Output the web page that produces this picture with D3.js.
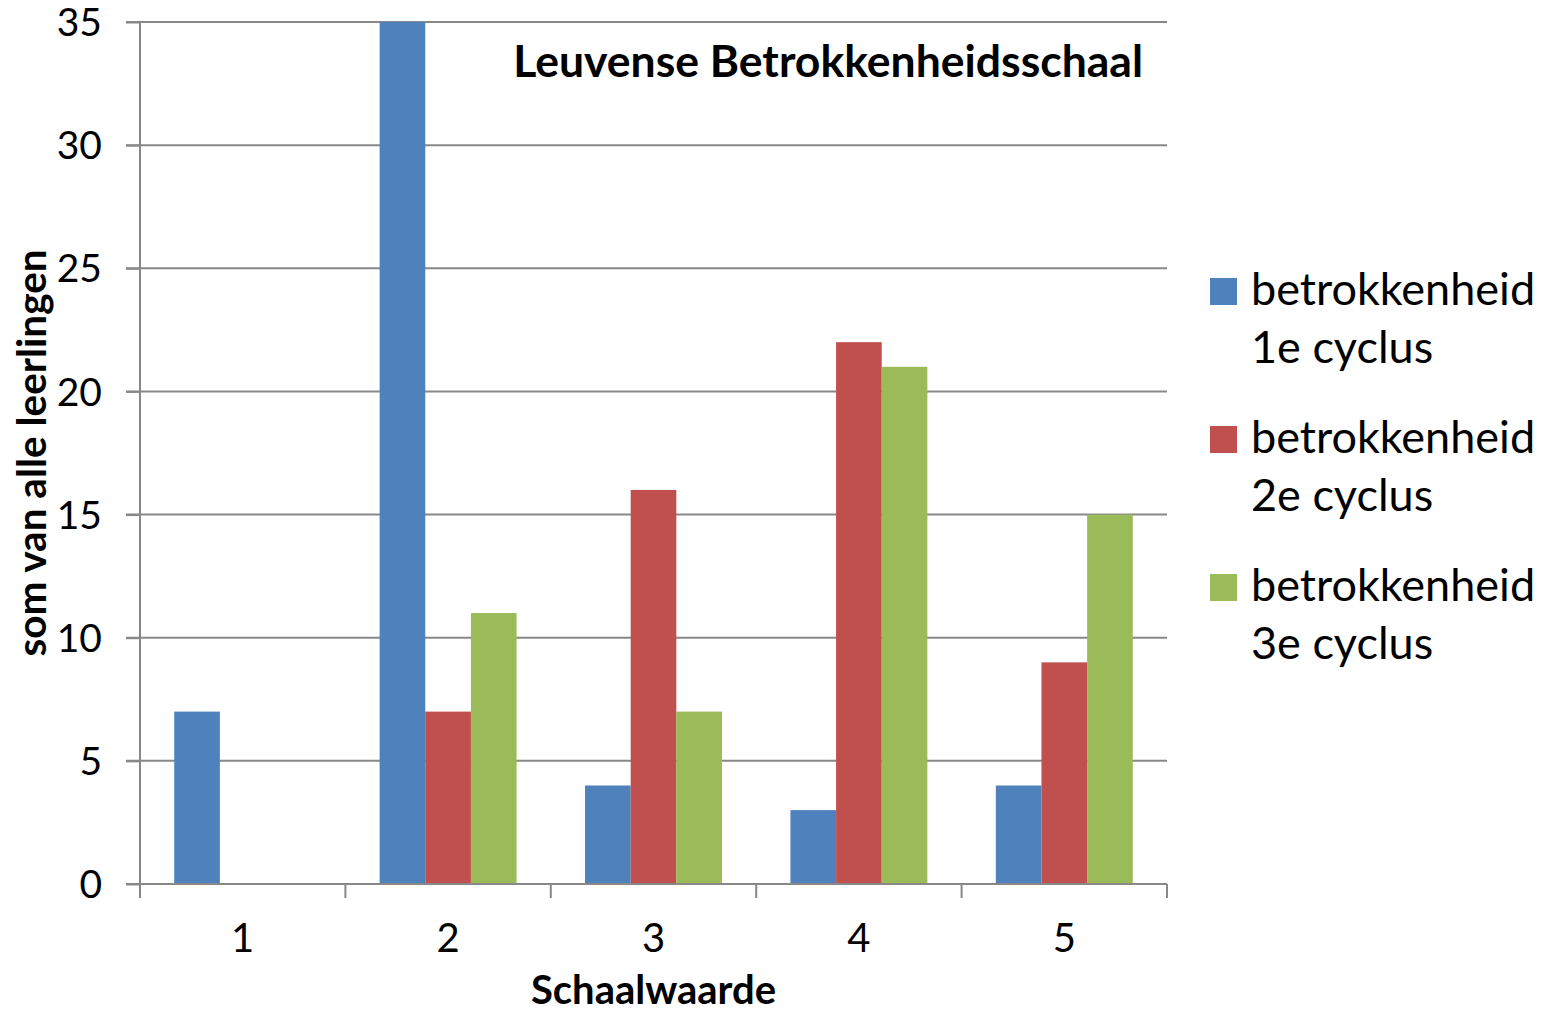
<!DOCTYPE html>
<html>
<head>
<meta charset="utf-8">
<script src="https://cdn.jsdelivr.net/npm/d3@7"></script>
<style>
  body { margin: 0; background: #fff; }
  text { font-family: Lato, "Open Sans", sans-serif; fill: #000; }
</style>
</head>
<body>
<div id="chart"></div>
<script>
// Data
const categories = ['1', '2', '3', '4', '5'];
const seriesNames = [
    ['betrokkenheid', '1e cyclus'],
    ['betrokkenheid', '2e cyclus'],
    ['betrokkenheid', '3e cyclus'],
];
const cyclus1 = [7, 35, 4, 3, 4];
const cyclus2 = [0, 7, 16, 22, 9];
const cyclus3 = [0, 11, 7, 21, 15];
const yTicks = [0, 5, 10, 15, 20, 25, 30, 35];
const colors = ['#4F81BD', '#C0504D', '#9BBB59'];

const width = 1549;
const height = 1014;
const margin = { top: 22, right: 382, bottom: 130, left: 140 };

const svg = d3.select('div#chart').append('svg').attr('width', width).attr('height', height);
const innerW = width - margin.left - margin.right;
const innerH = height - margin.top - margin.bottom;

const x = d3.scaleBand().domain(categories).range([0, innerW]);
const xSeries = d3.scaleBand().domain([0, 1, 2]).range([0, x.bandwidth()]).paddingOuter(0.75);
const y = d3.scaleLinear().domain([0, 35]).range([innerH, 0]);

const plot = svg.append('g').attr('transform', `translate(${margin.left},${margin.top})`);

// gridlines
plot.append('g').selectAll('line').data(yTicks.slice(1)).join('line')
    .attr('x1', -14).attr('x2', innerW)
    .attr('y1', d => y(d)).attr('y2', d => y(d))
    .attr('stroke', '#888').attr('stroke-width', 2);

// bars
const series = [cyclus1, cyclus2, cyclus3];
series.forEach((vals, i) => {
    plot.append('g').selectAll('rect').data(vals).join('rect')
        .attr('x', (d, j) => x(categories[j]) + xSeries(i))
        .attr('y', d => y(d))
        .attr('width', xSeries.bandwidth())
        .attr('height', d => innerH - y(d))
        .attr('fill', colors[i]);
});

// y axis
const yAxis = d3.axisLeft(y).tickValues(yTicks).tickSize(14).tickPadding(24);
const yAxisG = plot.append('g').call(yAxis);
yAxisG.select('.domain').attr('stroke', '#888').attr('stroke-width', 2).attr('d', `M0,0V${innerH}`);
yAxisG.selectAll('.tick line').attr('stroke', '#888').attr('stroke-width', 2);
yAxisG.selectAll('.tick text').style('font-size', '39px').attr('dy', '0.35em');

// x axis
const xAxis = d3.axisBottom(x).tickSize(0).tickPadding(40);
const xAxisG = plot.append('g').attr('transform', `translate(0,${innerH})`).call(xAxis);
xAxisG.select('.domain').attr('stroke', '#888').attr('stroke-width', 2).attr('d', `M-14,0H${innerW}`);
xAxisG.selectAll('.tick text').style('font-size', '40px');
xAxisG.append('g').selectAll('line').data(d3.range(categories.length + 1)).join('line')
    .attr('x1', d => d * x.step()).attr('x2', d => d * x.step())
    .attr('y1', 0).attr('y2', 14)
    .attr('stroke', '#888').attr('stroke-width', 2);

// titles
svg.append('text').text('Leuvense Betrokkenheidsschaal')
    .attr('x', 1143).attr('y', 77).attr('text-anchor', 'end')
    .style('font-size', '44.5px').style('font-weight', 'bold');
svg.append('text').text('Schaalwaarde')
    .attr('x', margin.left + innerW / 2).attr('y', 1004).attr('text-anchor', 'middle')
    .style('font-size', '40px').style('font-weight', 'bold');
svg.append('text').text('som van alle leerlingen')
    .attr('transform', `translate(46,${margin.top + innerH / 2}) rotate(-90)`)
    .attr('text-anchor', 'middle')
    .style('font-size', '40.5px').style('font-weight', 'bold');

// legend
const legend = svg.append('g').attr('transform', 'translate(1210,278)');
seriesNames.forEach((name, i) => {
    const g = legend.append('g').attr('transform', `translate(0,${i * 148})`);
    g.append('rect').attr('width', 27).attr('height', 27).attr('fill', colors[i]);
    g.append('text').text(name[0]).attr('x', 41).attr('y', 27).style('font-size', '45px');
    g.append('text').text(name[1]).attr('x', 41).attr('y', 85).style('font-size', '45px');
});
</script>
</body>
</html>
